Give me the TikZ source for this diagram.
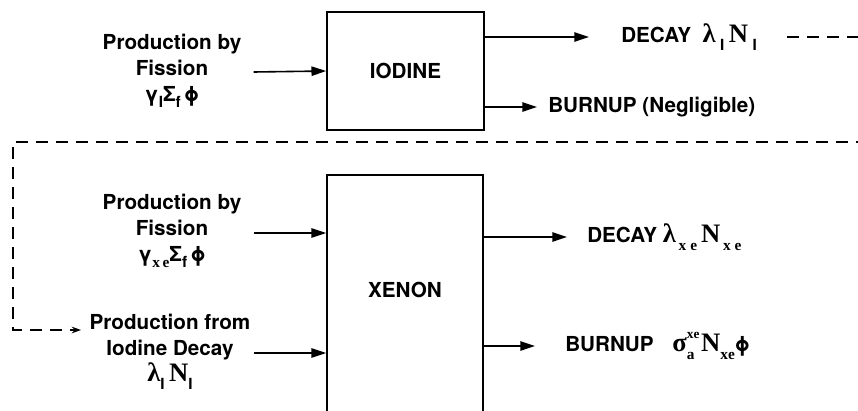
\documentclass[tikz,border=0pt]{standalone}
\usepackage{fontspec}
\setmainfont{TeX Gyre Heros}
\newfontfamily\serifgrk{Liberation Serif}[UprightFont={* Bold},BoldFont={* Bold}]
\usepackage{tikz}
\usetikzlibrary{arrows.meta,positioning,calc}

\newcommand{\ser}{\serifgrk\fontsize{20}{19.5}\selectfont}
\newcommand{\lowidx}[1]{\raisebox{-0.3em}{\fontsize{11.5}{11}\selectfont #1}}
\newcommand{\upidx}[1]{\raisebox{0.5em}{\fontsize{10}{10}\selectfont #1}}
\newcommand{\idxI}{\lowidx{\normalfont\bfseries I}}

\tikzset{
  lbl/.style={font=\fontsize{15.5}{19.5}\selectfont\bfseries,align=center,inner sep=0pt},
  box/.style={draw,line width=1.3pt,inner sep=0pt},
  flow/.style={line width=1.2pt,-{Triangle[length=11pt,width=7pt]}},
  loopline/.style={line width=1.1pt,dash pattern=on 9pt off 6pt,-{Stealth[length=7pt,width=5pt]}}
}

\begin{document}
\begin{tikzpicture}[x=0.75pt,y=-0.75pt]
  \useasboundingbox (0,0) rectangle (858,411);
  % boxes
  \node[box,lbl,minimum width=117.75pt,minimum height=88.5pt] (iodine) at (405.5,71) {IODINE};
  \node[box,minimum width=117pt,minimum height=195pt] (xenon) at (405,305) {};
  \node[lbl] (xelbl) at (405,290) {XENON};
  % sources
  \node[lbl] (fisI) at (172,71) {Production by\\Fission\\γ\idxI Σ\lowidx{f}\,ϕ};
  \node[lbl] (fisX) at (172,231) {Production by\\Fission\\γ\lowidx{\serifgrk x\hspace{2pt}e}Σ\lowidx{f}\,ϕ};
  \node[lbl] (fromI) at (170,352) {Production from\\Iodine Decay\\{\ser λ\idxI\,N\idxI}};
  % sinks
  \node[lbl,anchor=west] (decI) at (621,37) {DECAY\ \ {\ser λ\,\idxI\,N\,\idxI}};
  \node[lbl,anchor=west] (burI) at (548,107) {BURNUP (Negligible)};
  \node[lbl,anchor=west] (decX) at (587,237) {DECAY\ {\ser λ\lowidx{\hspace{2pt}x\hspace{3pt}e}\hspace{3pt}N\lowidx{\hspace{2pt}x\hspace{3pt}e}}};
  \node[lbl,anchor=west] (burX) at (565,346) {BURNUP\hspace{14pt}{\ser σ\rlap{\upidx{xe}}\lowidx{a}\hspace{5pt}N\lowidx{xe}}ϕ};
  \coordinate (loopend) at (81,330);

  \draw[flow] ($(fisI.east)+(12,1)$) -- (fisI.east -| iodine.west);
  \draw[flow] ($(fisX.east)+(12,2)$) -- ($(fisX.east -| xenon.west)+(0,2)$);
  \draw[flow] ($(fromI.east)+(3,1)$) -- ($(fromI.east -| xenon.west)+(0,1)$);
  \draw[flow] (iodine.east |- decI.west) -- ($(decI.west)+(-32,0)$);
  \draw[flow] (iodine.east |- burI.west) -- ($(burI.west)+(-11,0)$);
  \draw[flow] (xenon.east |- decX.west) -- ($(decX.west)+(-20,0)$);
  \draw[flow] (xenon.east |- burX.west) -- ($(burX.west)+(-30,0)$);
  % iodine decay feeds xenon
  \draw[loopline] ($(decI.east)+(30,0)$) -- (885,37) |- (13,142) |- (loopend);
\end{tikzpicture}
\end{document}
